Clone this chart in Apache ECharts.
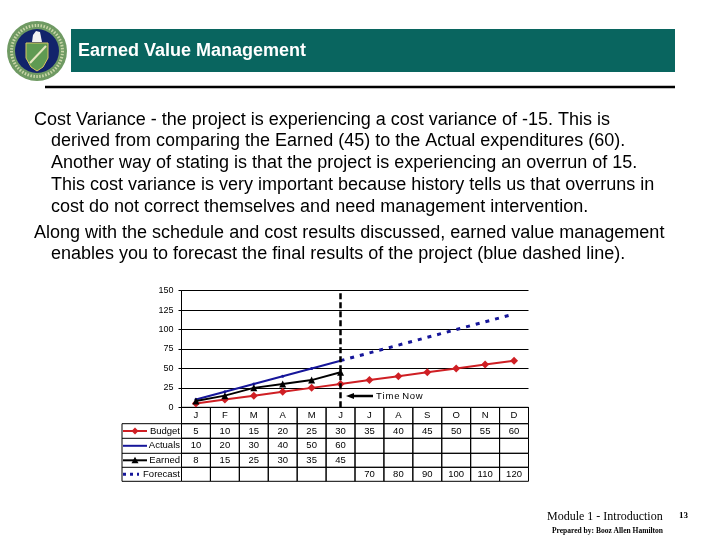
<!DOCTYPE html>
<html><head><meta charset="utf-8">
<style>html,body{margin:0;padding:0;background:#fff}#c{width:720px;height:540px}</style>
<script src="https://cdn.jsdelivr.net/npm/echarts@6/dist/echarts.min.js"></script>
</head><body><div id="c"></div>
<script>
const months = ['J','F','M','A','M','J','J','A','S','O','N','D'];
const budget = [5,10,15,20,25,30,35,40,45,50,55,60];
const actuals = [10,20,30,40,50,60,null,null,null,null,null,null];
const earned = [8,15,25,30,35,45,null,null,null,null,null,null];
const forecast = [null,null,null,null,null,null,70,80,90,100,110,120];
const rowNames = ['Budget','Actuals','Earned','Forecast'];
const yTicks = [0,25,50,75,100,125,150];
const title = 'Earned Value Management';
const bodyLines = [
  ['Cost Variance - the project is experiencing a cost variance of -15. This is',34,120],
  ['derived from comparing the Earned (45) to the Actual expenditures (60).',51,141],
  ['Another way of stating is that the project is experiencing an overrun of 15.',51,163],
  ['This cost variance is very important because history tells us that overruns in',51,185],
  ['cost do not correct themselves and need management intervention.',51,207],
  ['Along with the schedule and cost results discussed, earned value management',34,233],
  ['enables you to forecast the final results of the project (blue dashed line).',51,254]
];
const RED='#cf1f24', BLUE='#16169a', BLACK='#000', TEAL='#09655f';
const PL=181.5, PW=347, PT=290.7, PH=116.6, TH=74;
const rowEdges=[0,16.4,31,46,60,74];
const forecastLine = forecast.map((v,i)=> i===5 ? actuals[5] : v);

const rows=[months,budget,actuals,earned,forecast];
const cells=[];
rows.forEach((r,ri)=>r.forEach((v,ci)=>cells.push([ci,ri,v==null?'':String(v)])));

const g=[];
// header
g.push({type:'rect',shape:{x:71,y:29,width:604,height:43},style:{fill:TEAL}});
g.push({type:'text',style:{x:78,y:51,text:title,fill:'#fff',font:'bold 18px "Liberation Sans"',textVerticalAlign:'middle'}});
g.push({type:'line',shape:{x1:45,y1:87,x2:675,y2:87},style:{stroke:'#000',lineWidth:2.5}});
// seal
g.push({type:'circle',shape:{cx:37,cy:51,r:30},style:{fill:'#6f9a63'}});
g.push({type:'circle',shape:{cx:37,cy:51,r:25.5},style:{fill:'none',stroke:'#c9d6a8',lineWidth:3,lineDash:[1.5,1.5]}});
g.push({type:'circle',shape:{cx:37,cy:51,r:22},style:{fill:'#12246b'}});
g.push({type:'polygon',shape:{points:[[26,43],[48,43],[48,58],[43,67],[37,71],[31,67],[26,58]]},style:{fill:'#5f9a52',stroke:'#d9c860',lineWidth:1}});
g.push({type:'line',shape:{x1:30,y1:63,x2:46,y2:46},style:{stroke:'#e6e6c0',lineWidth:2}});
g.push({type:'polygon',shape:{points:[[32,42],[33,35],[36,31],[40,32],[42,42]]},style:{fill:'#f2f2f2'}});
// body text
bodyLines.forEach(l=>g.push({type:'text',style:{x:l[1],y:l[2],text:l[0],fill:'#000',font:'18px "Liberation Sans"',textVerticalAlign:'middle'}}));
// time-now arrow
g.push({type:'line',z:20,shape:{x1:352,y1:396,x2:373,y2:396},style:{stroke:'#000',lineWidth:2.5}});
g.push({type:'polygon',z:20,shape:{points:[[346,396],[354,393],[354,399]]},style:{fill:'#000'}});
g.push({type:'text',z:20,style:{x:376,y:396.5,text:'T\u200ai\u200am\u200ae N\u200ao\u200aw',fill:'#000',font:'9.5px "Liberation Sans"',textVerticalAlign:'middle'}});
// table legend column
const rowY=i=>PT+PH+(rowEdges[i+1]+rowEdges[i+2])/2;
rowEdges.slice(1).forEach(e=>g.push({type:'line',shape:{x1:122,y1:PT+PH+e,x2:PL,y2:PT+PH+e},style:{stroke:'#000',lineWidth:1}}));
g.push({type:'line',shape:{x1:122,y1:PT+PH+rowEdges[1],x2:122,y2:PT+PH+TH},style:{stroke:'#000',lineWidth:1}});
rowNames.forEach((n,i)=>g.push({type:'text',style:{x:180,y:rowY(i),text:n,fill:'#000',font:'9.5px "Liberation Sans"',textAlign:'right',textVerticalAlign:'middle'}}));
const keyY=[0,1,2,3].map(rowY);
g.push({type:'line',shape:{x1:123,y1:keyY[0],x2:147,y2:keyY[0]},style:{stroke:RED,lineWidth:2}});
g.push({type:'polygon',shape:{points:[[135,keyY[0]-3.5],[138.5,keyY[0]],[135,keyY[0]+3.5],[131.5,keyY[0]]]},style:{fill:RED}});
g.push({type:'line',shape:{x1:123,y1:keyY[1],x2:147,y2:keyY[1]},style:{stroke:BLUE,lineWidth:2}});
g.push({type:'line',shape:{x1:123,y1:keyY[2],x2:147,y2:keyY[2]},style:{stroke:BLACK,lineWidth:2}});
g.push({type:'polygon',shape:{points:[[135,keyY[2]-3.5],[138.5,keyY[2]+3],[131.5,keyY[2]+3]]},style:{fill:BLACK}});
g.push({type:'line',shape:{x1:123,y1:keyY[3],x2:139,y2:keyY[3]},style:{stroke:BLUE,lineWidth:3,lineDash:[3,4]}});
// footer
g.push({type:'text',style:{x:547,y:517,text:'Module 1 - Introduction',fill:'#000',font:'12px "Liberation Serif"',textVerticalAlign:'middle'}});
g.push({type:'text',style:{x:679,y:516,text:'13',fill:'#000',font:'bold 9px "Liberation Serif"',textVerticalAlign:'middle'}});
g.push({type:'text',style:{x:552,y:531,text:'Prepared by: Booz Allen Hamilton',fill:'#000',font:'bold 7.5px "Liberation Serif"',textVerticalAlign:'middle'}});

const chart=echarts.init(document.getElementById('c'),null,{renderer:'canvas',width:720,height:540});
chart.setOption({
  animation:false,
  backgroundColor:'#fff',
  grid:[
    {left:PL,width:PW,top:PT,height:PH},
    {left:PL,width:PW,top:PT+PH,height:TH}
  ],
  xAxis:[
    {type:'category',gridIndex:0,data:months.map((m,i)=>i),boundaryGap:true,
     axisLabel:{show:false},axisTick:{show:false},axisLine:{show:true,lineStyle:{color:'#000',width:1}},splitLine:{show:false}},
    {type:'category',gridIndex:1,data:months.map((m,i)=>i),boundaryGap:true,show:false}
  ],
  yAxis:[
    {type:'value',gridIndex:0,min:yTicks[0],max:yTicks[yTicks.length-1],interval:25,
     axisLine:{show:true,lineStyle:{color:'#000',width:1}},
     axisTick:{show:true,length:3,lineStyle:{color:'#000'}},
     axisLabel:{color:'#000',fontSize:9,fontFamily:'Liberation Sans',margin:8},
     splitLine:{show:true,lineStyle:{color:'#000',width:1}}},
    {type:'value',gridIndex:1,min:0,max:TH,inverse:true,show:false}
  ],
  graphic:{elements:g},
  series:[
    {type:'line',name:'Actuals',data:actuals,z:3,connectNulls:false,symbol:'circle',symbolSize:3,
     lineStyle:{color:BLUE,width:2},itemStyle:{color:BLUE},
     markLine:{silent:true,symbol:'none',animation:false,label:{show:false},
       lineStyle:{color:'#000',width:2.5,type:[6,3]},data:[{xAxis:5}]}},
    {type:'line',name:'Forecast',data:forecastLine,z:3,symbol:'none',
     lineStyle:{color:BLUE,width:3,type:[4,6]}},
    {type:'line',name:'Budget',data:budget,z:4,symbol:'diamond',symbolSize:8,
     lineStyle:{color:RED,width:2},itemStyle:{color:RED}},
    {type:'line',name:'Earned',data:earned,z:5,symbol:'triangle',symbolSize:7,
     lineStyle:{color:BLACK,width:2},itemStyle:{color:BLACK}},
    {type:'custom',xAxisIndex:1,yAxisIndex:1,data:cells,silent:true,clip:false,
     renderItem:function(params,api){
       const c=api.value(0),r=api.value(1),txt=cells[params.dataIndex][2];
       const p0=api.coord([c,rowEdges[r]]),p1=api.coord([c,rowEdges[r+1]]);
       const w=api.size([1,0])[0];
       return {type:'group',children:[
         {type:'rect',shape:{x:p0[0]-w/2,y:p0[1],width:w,height:p1[1]-p0[1]},style:{fill:'none',stroke:'#000',lineWidth:1}},
         {type:'text',style:{x:p0[0],y:(p0[1]+p1[1])/2,text:txt,fill:'#000',font:'9.5px "Liberation Sans"',textAlign:'center',textVerticalAlign:'middle'}}
       ]};
     }}
  ]
});
</script></body></html>
